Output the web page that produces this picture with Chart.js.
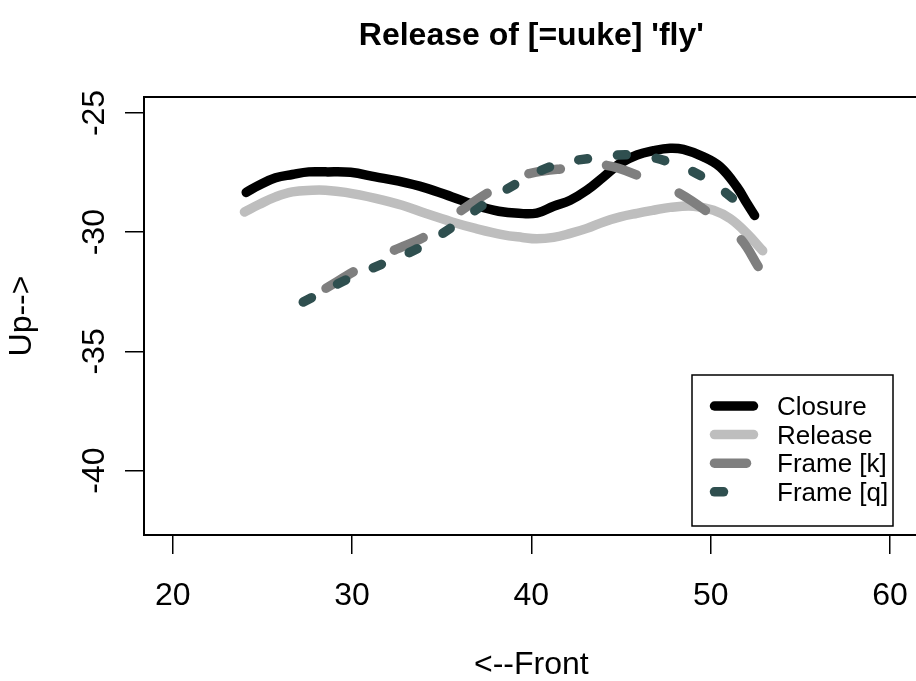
<!DOCTYPE html>
<html>
<head>
<meta charset="utf-8">
<script src="https://cdn.jsdelivr.net/npm/chart.js@4"></script>
<style>
  html, body { margin: 0; padding: 0; background: #fff; overflow: hidden; }
  #wrap { width: 960px; height: 681px; }
</style>
</head>
<body>
<div id="wrap"><canvas id="plot" width="960" height="681"></canvas></div>
<script>
// Tick labels
const xTicks = [20, 30, 40, 50, 60];
const yTicks = [-25, -30, -35, -40];

// Series
const closureX = [24.1, 24.81, 25.74, 26.67, 27.59, 28.52, 29.92, 31.31, 32.61, 34.09, 35.58, 36.88, 38.18, 39.29, 40.3, 41.24, 42.17, 43.10, 44.03, 44.96, 45.89, 46.81, 47.74, 48.48, 49.60, 50.53, 51.46, 52.02, 52.45];
const closureY = [-28.33, -28.03, -27.72, -27.58, -27.47, -27.47, -27.49, -27.68, -27.86, -28.14, -28.52, -28.87, -29.12, -29.21, -29.2, -28.91, -28.66, -28.24, -27.68, -27.11, -26.76, -26.58, -26.48, -26.53, -26.84, -27.26, -28.10, -28.79, -29.3];

const releaseX = [24.0, 24.81, 25.74, 26.67, 27.78, 28.52, 29.64, 31.31, 32.80, 34.09, 35.58, 36.88, 38.37, 39.5, 40.3, 41.24, 42.17, 43.10, 44.03, 44.96, 45.89, 46.81, 47.74, 49.04, 50.16, 51.09, 52.02, 52.9];
const releaseY = [-29.15, -28.84, -28.52, -28.31, -28.24, -28.24, -28.33, -28.58, -28.87, -29.21, -29.57, -29.84, -30.10, -30.22, -30.28, -30.22, -30.05, -29.84, -29.57, -29.36, -29.21, -29.08, -28.96, -28.91, -29.08, -29.43, -30.05, -30.78];

const frameKX = [28.55, 30.38, 32.14, 34.28, 35.77, 37.81, 39.0, 39.94, 41.99, 44.03, 46.35, 48.12, 50.07, 51.64, 52.7];
const frameKY = [-32.35, -31.53, -30.83, -30.10, -29.26, -28.24, -27.8, -27.53, -27.32, -27.18, -27.74, -28.31, -29.29, -30.26, -31.5];

const frameQX = [27.28, 29.73, 31.72, 33.72, 35.67, 37.34, 39.29, 41.34, 43.38, 45.61, 47.65, 49.69, 51.55, 51.8];
const frameQY = [-32.93, -31.97, -31.32, -30.66, -29.74, -28.84, -27.91, -27.18, -26.90, -26.76, -27.05, -27.74, -28.77, -28.95];

const FONT = '"Liberation Sans", Arial, Helvetica, sans-serif';
const LW = 9.5;

function pts(xs, ys) {
    return xs.map((x, i) => ({ x: x, y: ys[i] }));
}

function makeSet(label, xs, ys, color, dash, order) {
    return {
        label: label,
        data: pts(xs, ys),
        borderColor: color,
        backgroundColor: color,
        borderWidth: LW,
        borderDash: dash,
        borderCapStyle: 'round',
        borderJoinStyle: 'round',
        pointRadius: 0,
        tension: 0.4,
        fill: false,
        order: order
    };
}

// box (right side falls off the page), title and legend
const decor = {
    id: 'decor',
    afterDraw(chart) {
        const c = chart.ctx;
        const a = chart.chartArea;
        c.save();
        c.strokeStyle = '#000';
        c.lineWidth = 2;
        c.beginPath();
        c.moveTo(chart.width + 5, a.top);
        c.lineTo(a.left, a.top);
        c.lineTo(a.left, a.bottom);
        c.lineTo(chart.width + 5, a.bottom);
        c.stroke();

        c.fillStyle = '#000';
        c.font = 'bold 32px ' + FONT;
        c.textAlign = 'center';
        c.textBaseline = 'alphabetic';
        c.fillText("Release of [=uuke] 'fly'", (a.left + a.right) / 2, 45);

        // legend
        const bx = 692, by = 375, bw = 201, bh = 151;
        c.fillStyle = '#fff';
        c.fillRect(bx, by, bw, bh);
        c.strokeStyle = '#000';
        c.lineWidth = 1.5;
        c.strokeRect(bx, by, bw, bh);
        c.font = '26px ' + FONT;
        c.textAlign = 'left';
        c.textBaseline = 'middle';
        chart.data.datasets.forEach((ds, i) => {
            const y = 406 + i * 28.6;
            c.beginPath();
            c.strokeStyle = ds.borderColor;
            c.lineWidth = LW;
            c.lineCap = 'round';
            c.setLineDash(ds.borderDash);
            c.moveTo(714.5, y);
            c.lineTo(753.5, y);
            c.stroke();
            c.setLineDash([]);
            c.fillStyle = '#000';
            c.fillText(ds.label, 777, y + 2);
        });
        c.restore();
    }
};

new Chart(document.getElementById('plot'), {
    type: 'line',
    data: {
        datasets: [
            makeSet('Closure', closureX, closureY, '#000000', [], 4),
            makeSet('Release', releaseX, releaseY, '#BEBEBE', [], 3),
            makeSet('Frame [k]', frameKX, frameKY, '#7F7F7F', [32, 46], 2),
            makeSet('Frame [q]', frameQX, frameQY, '#2F4F4F', [9, 30], 1)
        ]
    },
    options: {
        responsive: false,
        animation: false,
        // plot region runs a little past the right edge of the page
        layout: { padding: { top: 97, right: 41.3, left: 0, bottom: 0 } },
        plugins: {
            legend: { display: false },
            tooltip: { enabled: false },
            title: { display: false }
        },
        scales: {
            x: {
                type: 'linear',
                min: 18.4,
                max: 61.6,
                afterBuildTicks: s => { s.ticks = xTicks.map(v => ({ value: v })); },
                afterFit: s => { s.height = 146; },
                grid: { drawOnChartArea: false, drawTicks: true, tickLength: 19, color: '#000', lineWidth: 1.5 },
                border: { display: false },
                ticks: { color: '#000', font: { family: FONT, size: 32 }, padding: 23, maxRotation: 0, autoSkip: false },
                title: { display: true, text: '<--Front', color: '#000', font: { family: FONT, size: 32, lineHeight: 1 }, padding: { top: 0, bottom: 0 } }
            },
            y: {
                type: 'linear',
                min: -42.7,
                max: -24.33,
                afterBuildTicks: s => { s.ticks = yTicks.map(v => ({ value: v })); },
                afterFit: s => { s.width = 144; },
                grid: { drawOnChartArea: false, drawTicks: true, tickLength: 19, color: '#000', lineWidth: 1.5 },
                border: { display: false },
                ticks: { color: '#000', font: { family: FONT, size: 32 }, padding: 7, minRotation: 90, maxRotation: 90, crossAlign: 'center', autoSkip: false },
                title: { display: true, text: 'Up-->', color: '#000', font: { family: FONT, size: 32, lineHeight: 1 }, padding: { top: 6.5, bottom: 0 } }
            }
        }
    },
    plugins: [decor]
});
</script>
</body>
</html>
